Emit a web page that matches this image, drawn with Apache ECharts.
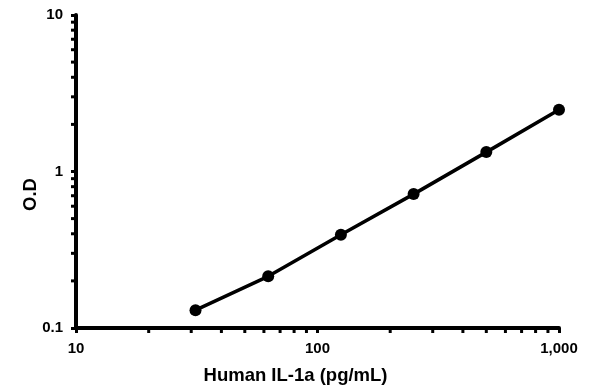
<!DOCTYPE html>
<html><head><meta charset="utf-8">
<script src="https://cdn.jsdelivr.net/npm/echarts@6/dist/echarts.min.js"></script>
<style>html,body{margin:0;padding:0;background:#fff}#c{width:595px;height:391px}</style>
</head><body><div id="c"></div>
<script>
const concentrations = [31.25, 62.5, 125, 250, 500, 1000];
const odValues = [0.130, 0.214, 0.394, 0.717, 1.33, 2.48];
const xMinorTicks = [20,30,40,50,60,70,80,90,200,300,400,500,600,700,800,900];
const yMinorTicks = [0.2,0.3,0.4,0.5,0.6,0.7,0.8,0.9,2,3,4,5,6,7,8,9];
const xTitle = 'Human IL-1a (pg/mL)';
const yTitle = 'O.D';

const font = 'Liberation Sans, Arial, sans-serif';
const chart = echarts.init(document.getElementById('c'));
chart.setOption({
  animation: false,
  grid: {left: 76, right: 36, top: 15, bottom: 63, containLabel: false},
  xAxis: {
    type: 'log', logBase: 10, min: 10, max: 1000,
    name: xTitle, nameLocation: 'middle', nameGap: 38, nameMoveOverlap: false,
    nameTextStyle: {fontFamily: font, fontWeight: 'bold', fontSize: 18.5, color: '#000', padding: [0, 44, 0, 0]},
    axisLine: {lineStyle: {color: '#000', width: 4}},
    axisTick: {show: true, length: 5, lineStyle: {color: '#000', width: 3}},
    axisLabel: {fontFamily: font, fontWeight: 'bold', fontSize: 15, color: '#000', margin: 13,
      formatter: v => Math.round(v).toLocaleString('en-US')},
    splitLine: {show: false}
  },
  yAxis: {
    type: 'log', logBase: 10, min: 0.1, max: 10,
    name: yTitle, nameLocation: 'middle', nameGap: 36, nameRotate: 90, nameMoveOverlap: false,
    nameTextStyle: {fontFamily: font, fontWeight: 'bold', fontSize: 18.5, color: '#000', padding: [0, 46, 0, 0]},
    axisLine: {lineStyle: {color: '#000', width: 4}},
    axisTick: {show: true, length: 5, lineStyle: {color: '#000', width: 3}},
    axisLabel: {fontFamily: font, fontWeight: 'bold', fontSize: 15, color: '#000', margin: 13,
      formatter: v => (v < 1 ? Number(v.toFixed(1)).toString() : Math.round(v).toString())},
    splitLine: {show: false}
  },
  series: [
    {
      type: 'custom', silent: true, clip: false, z: 1,
      data: xMinorTicks.map(v => [v, 0.1]),
      renderItem: (params, api) => {
        const p = api.coord([api.value(0), api.value(1)]);
        return {type: 'line', shape: {x1: p[0], y1: p[1] + 2, x2: p[0], y2: p[1] + 5},
          style: {stroke: '#000', lineWidth: 3}};
      }
    },
    {
      type: 'custom', silent: true, clip: false, z: 1,
      data: yMinorTicks.map(v => [10, v]),
      renderItem: (params, api) => {
        const p = api.coord([api.value(0), api.value(1)]);
        return {type: 'line', shape: {x1: p[0] - 5, y1: p[1], x2: p[0] - 2, y2: p[1]},
          style: {stroke: '#000', lineWidth: 3}};
      }
    },
    {
      type: 'line', z: 3,
      data: concentrations.map((c, i) => [c, odValues[i]]),
      symbol: 'circle', symbolSize: 12,
      lineStyle: {color: '#000', width: 3.5},
      itemStyle: {color: '#000'}
    }
  ]
});
</script></body></html>
